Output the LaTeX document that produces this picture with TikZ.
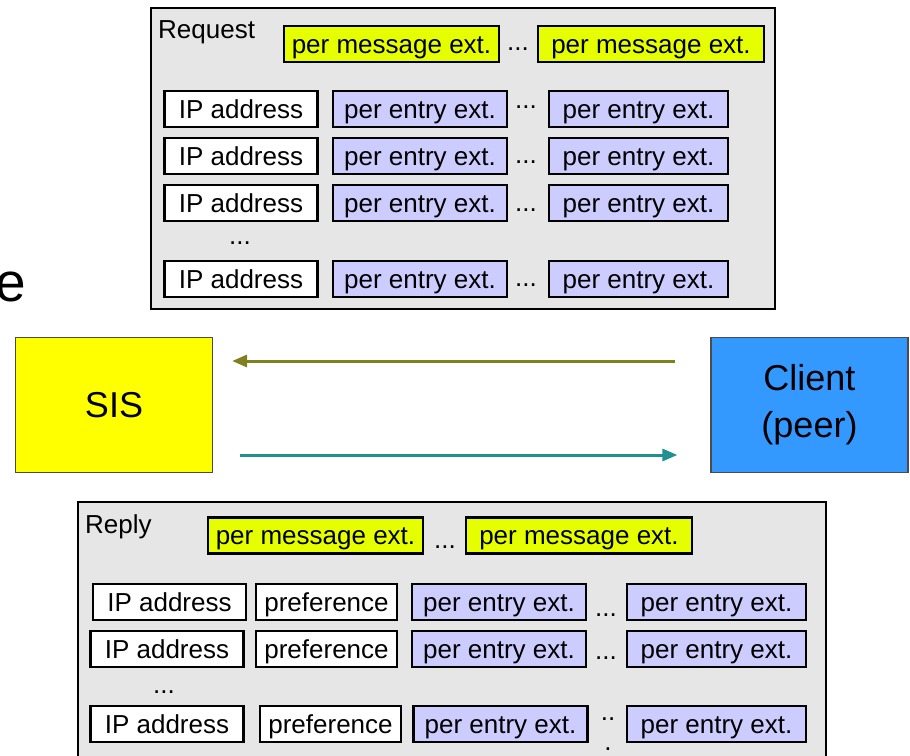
\documentclass[tikz,border=0pt]{standalone}
\usepackage{fontspec}
\setmainfont{Liberation Sans}
\usetikzlibrary{arrows.meta}
\definecolor{panelgray}{RGB}{230,230,230}
\definecolor{msgyellow}{RGB}{230,255,0}
\definecolor{entryblue}{RGB}{204,204,255}
\definecolor{sisyellow}{RGB}{255,255,0}
\definecolor{clientblue}{RGB}{51,153,255}
\definecolor{reqolive}{RGB}{128,128,32}
\definecolor{replyteal}{RGB}{32,144,144}

\begin{document}
\begin{tikzpicture}[x=1pt, y=-1pt,
    field/.style={draw, line width=2.2pt, minimum height=36pt, inner sep=0pt, text height=18.6pt, text depth=0pt, font=\fontsize{26}{30}\selectfont},
    addr/.style={field, fill=white, minimum width=153pt},
    pref/.style={field, fill=white, minimum width=141pt},
    entry/.style={field, fill=entryblue, minimum width=174pt},
    msg/.style={field, fill=msgyellow, minimum width=215pt},
    dots/.style={inner sep=0pt, font=\fontsize{26}{30}\selectfont},
    panel/.style={draw, line width=1.6pt, fill=panelgray, anchor=north west, inner sep=0pt},
    title/.style={anchor=base west, inner sep=0pt, font=\fontsize{26}{30}\selectfont},
    peer/.style={draw=black!70, line width=1.2pt, minimum width=197pt, minimum height=135pt, font=\fontsize{36}{47}\selectfont, align=center},
    msgarrow/.style={line width=3pt, -{Triangle[length=15pt,width=12pt]}}]
        \clip (0,0) rectangle (910,755);
        \node[anchor=east, inner sep=0pt, font=\fontsize{55}{60}\selectfont] (cut) at (26,287) {e};
        % request
        \node[panel, minimum width=624pt, minimum height=301pt] (req) at (150,7) {};
        \node[title] (reqtitle) at (158,38) {Request};
        \draw (391.5,44) node[msg](qmsg1){per message ext.} (518,49) node[dots](qmdots){...} (651,44) node[msg, minimum width=226pt](qmsg2){per message ext.};
        \draw (241,109) node[addr](qip1){IP address} +(0,47) node[addr](qip2){IP address} +(0,94) node[addr](qip3){IP address} +(0,170) node[addr](qip4){IP address};
        \draw (420,109) node[entry](qa1){per entry ext.} +(0,47) node[entry](qa2){per entry ext.} +(0,94) node[entry](qa3){per entry ext.} +(0,170) node[entry](qa4){per entry ext.};
        \draw (638.5,109) node[entry, minimum width=179pt](qb1){per entry ext.} +(0,47) node[entry, minimum width=179pt](qb2){per entry ext.} +(0,94) node[entry, minimum width=179pt](qb3){per entry ext.} +(0,170) node[entry, minimum width=179pt](qb4){per entry ext.};
        \draw (526,107) node[dots](qd1){...} (526,162) node[dots](qd2){...} (526,210) node[dots](qd3){...} (526,285) node[dots](qd4){...} (240,243) node[dots](qdrows){...};
        % peers
        \node[peer, fill=sisyellow] (sis) at (114,405) {SIS};
        \node[peer, fill=clientblue] (client) at (809.5,405) {Client\\(peer)};
        \coordinate (qstart) at ([xshift=-35pt,yshift=44pt]client.west);
        \coordinate (qend) at ([xshift=19pt,yshift=44pt]sis.east);
        \coordinate (rstart) at ([xshift=27pt,yshift=-50pt]sis.east);
        \coordinate (rend) at ([xshift=-33pt,yshift=-50pt]client.west);
        \draw[msgarrow, reqolive] (qstart) -- (qend);
        \draw[msgarrow, replyteal] (rstart) -- (rend);
        % reply
        \node[panel, minimum width=748pt, minimum height=300pt] (rep) at (77,501) {};
        \node[title] (reptitle) at (85,533) {Reply};
        \draw (315.5,535.5) node[msg](rmsg1){per message ext.} (445,547) node[dots](rmdots){...} (579,535.5) node[msg, minimum width=226pt](rmsg2){per message ext.};
        \draw (169.5,602) node[addr](rip1){IP address} (167,649) node[addr](rip2){IP address} (167,724) node[addr](rip3){IP address};
        \draw (326.5,602) node[pref](rpf1){preference} +(0,47) node[pref](rpf2){preference} (330.5,724) node[pref](rpf3){preference};
        \draw (499,602) node[entry](ra1){per entry ext.} +(0,47) node[entry](ra2){per entry ext.} (500.5,724) node[entry](ra3){per entry ext.};
        \draw (716.5,602) node[entry, minimum width=179pt](rb1){per entry ext.} +(0,47) node[entry, minimum width=179pt](rb2){per entry ext.} +(0,122) node[entry, minimum width=179pt](rb3){per entry ext.};
        \draw (606,615) node[dots](rd1){...} (606,658) node[dots](rd2){...} (608,719) node[dots](rd3){..} (608,749) node[dots](rd3b){.} (164,692) node[dots](rdrows){...};
    \end{tikzpicture}
\end{document}
